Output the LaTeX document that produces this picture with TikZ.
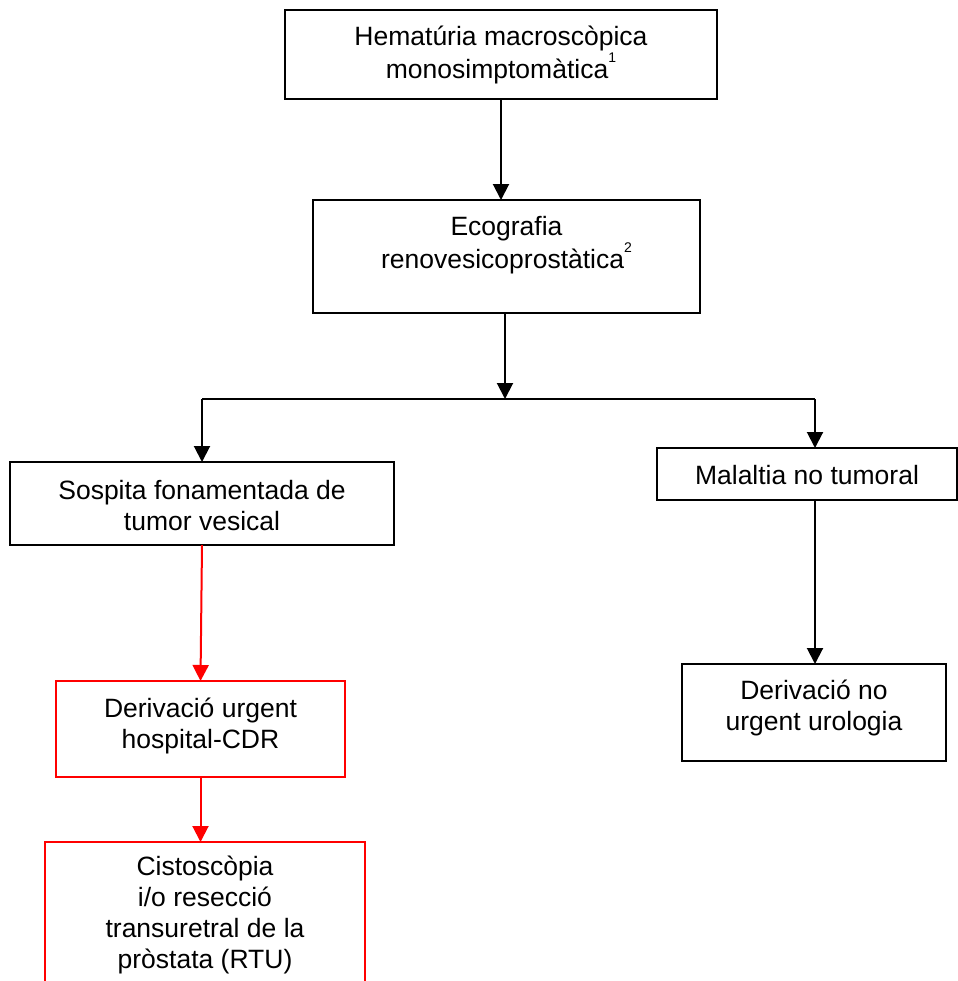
\documentclass[tikz,border=0pt]{standalone}
\usepackage{fontspec}
\setmainfont{Liberation Sans}
\usetikzlibrary{arrows.meta}
\definecolor{myred}{RGB}{255,0,0}
\newcommand{\supnum}[1]{\raisebox{0.6em}{\fontsize{7pt}{7pt}\selectfont #1}}
\tikzset{
  box/.style={draw, line width=1pt, inner sep=0pt, outer sep=0pt, fill=white},
  redbox/.style={box, draw=myred},
  txt/.style={align=center, inner sep=0pt, font=\fontsize{13.25pt}{15.5pt}\selectfont},
  conn/.style={line width=1pt, -{Triangle[width=8pt,length=8pt]}},
  redconn/.style={conn, draw=myred, -{Triangle[width=8pt,length=8pt,fill=myred]}, color=myred},
  plainline/.style={line width=1pt}
}
\begin{document}
\begin{tikzpicture}[x=0.5pt,y=-0.5pt]
\useasboundingbox (0,0) rectangle (958,981);
\clip (0,0) rectangle (958,981);
% boxes
\node[box, minimum width=216pt, minimum height=44.5pt] (top) at (501,54.5) {};
\node[txt] (topt) at (501,55) {Hematúria macroscòpica\\monosimptomàtica\supnum{1}};
\node[box, minimum width=193.5pt, minimum height=56.5pt] (eco) at (506.5,256.5) {};
\node[txt] (ecot) at (506.5,245) {Ecografia\\renovesicoprostàtica\supnum{2}};
\node[box, minimum width=192pt, minimum height=41.5pt] (sos) at (202,503.5) {};
\node[txt] (sost) at (202,506) {Sospita fonamentada de\\tumor vesical};
\node[box, minimum width=150pt, minimum height=26pt] (mal) at (807,474) {};
\node[txt] (malt) at (807,475) {Malaltia no tumoral};
\node[redbox, minimum width=144.5pt, minimum height=48pt] (urg) at (200.5,729) {};
\node[txt] (urgt) at (200.5,726) {Derivació urgent\\hospital-CDR};
\node[redbox, minimum width=160pt, minimum height=79pt] (cis) at (205,921) {};
\node[txt] (cist) at (205,915) {Cistoscòpia\\i/o resecció\\transuretral de la\\pròstata (RTU)};
\node[box, minimum width=132pt, minimum height=48.5pt] (nurg) at (814,712.5) {};
\node[txt] (nurgt) at (814,708) {Derivació no\\urgent urologia};
% junction
\coordinate (j) at (505,399);
\coordinate (jl) at (202,399);
\coordinate (jr) at (815,399);
% connectors
\draw[conn] (top.south) -- (top.south |- eco.north);
\draw[conn] (j |- eco.south) -- (j);
\draw[plainline] (jl) -- (jr);
\draw[conn] (jl) -- (jl |- sos.north);
\draw[conn] (jr) -- (jr |- mal.north);
\draw[redconn] (sos.south) -- (urg.north);
\draw[redconn] (urg.south) -- (urg.south |- cis.north);
\draw[conn] (jr |- mal.south) -- (jr |- nurg.north);
\end{tikzpicture}
\end{document}
